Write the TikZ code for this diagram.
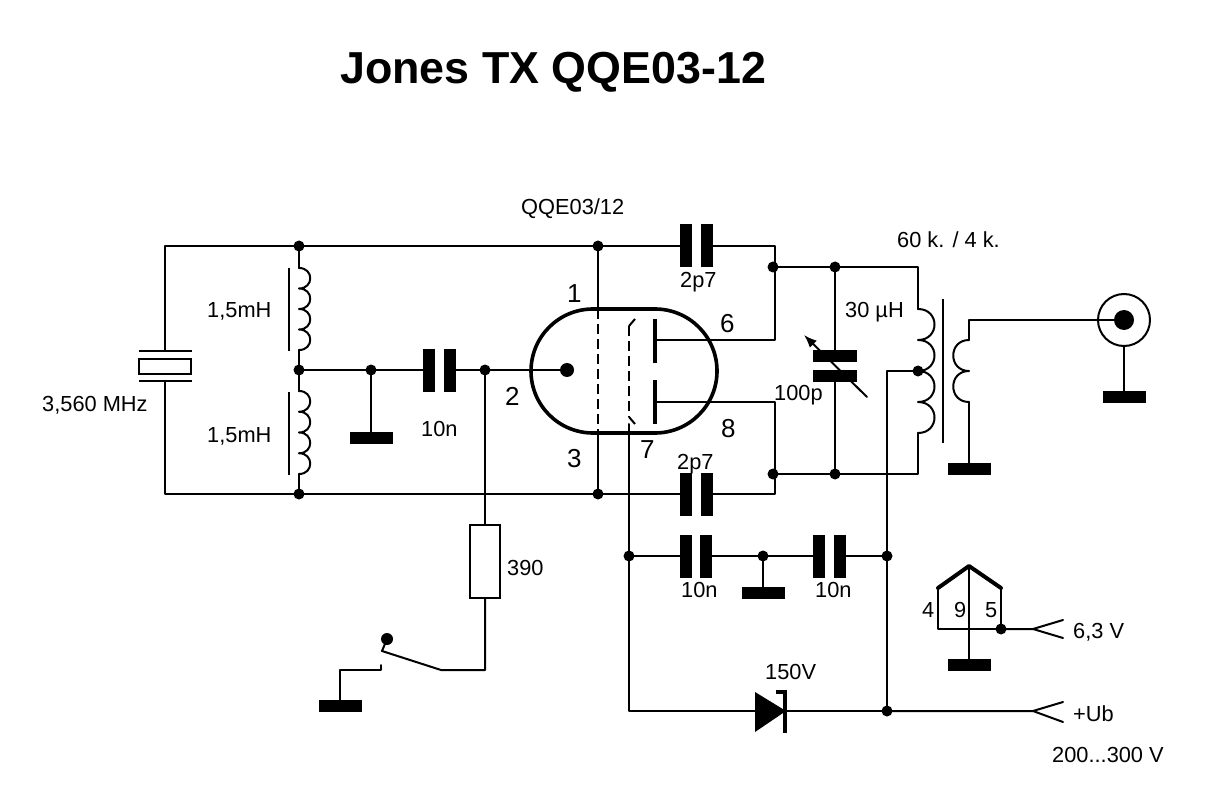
\documentclass[tikz,border=0pt]{standalone}
\usepackage{fontspec}
\setmainfont{Liberation Sans}
\usetikzlibrary{arrows.meta}
\tikzset{
  wire/.style={line width=2pt,line cap=round,line join=round},
  dot/.style={circle,fill=black,inner sep=0pt,minimum size=11pt},
  gnd/.style={rectangle,fill=black,inner sep=0pt,minimum width=43pt,minimum height=12pt},
  vplate/.style={rectangle,fill=black,inner sep=0pt,minimum width=12pt,minimum height=43pt},
  hplate/.style={rectangle,fill=black,inner sep=0pt,minimum width=44pt,minimum height=12pt},
  anode/.style={line width=4pt},
  thickroof/.style={line width=4pt,line cap=round,line join=round},
  lbl/.style={anchor=base west,inner sep=0pt,font=\fontsize{21.8}{26}\selectfont},
  pin/.style={anchor=base west,inner sep=0pt,font=\fontsize{26}{30}\selectfont},
  gdash/.style={line width=2.6pt,dash pattern=on 10pt off 5pt},
}
% coil of #4 humps from a named point: offset #2, pitch #3
\newcommand{\coilhumps}[4]{\draw[wire] (#1) \foreach \i in {1,...,#4}{ .. controls +(#2,0) and +(#2,0) .. ++(0,#3)};}
\begin{document}
\begin{tikzpicture}[x=1pt,y=-1pt]
\fill[white] (0,0) rectangle (1210,810);
\useasboundingbox (0,0) rectangle (1210,810);
% title
\node[anchor=base west,inner sep=0pt,font=\fontsize{44.8}{50}\selectfont\bfseries] (title) at (340,84) {Jones TX QQE03-12};
% junctions
\foreach \n/\x/\y in {jl/299/246,jg1t/598/246,jr/773/267,jm/835/267,jlm/299/370,jg/371/370,jk/485/370,
  jlb/299/494,jg1b/598/494,jrb/773/474,jmb/835/474,jt/918/371,jgs/629/556,jc/763/556,jub/887/556,jd/887/711,jh/1001/629}
  {\node[dot] (\n) at (\x,\y) {};}
% capacitors
\node[vplate] (c1a) at (686,246) {}; \node[vplate] (c1b) at (707,246) {};
\node[vplate] (c2a) at (686,494) {}; \node[vplate] (c2b) at (707,494) {};
\node[vplate] (c3a) at (429,370) {}; \node[vplate] (c3b) at (450,370) {};
\node[vplate] (c4a) at (686,556) {}; \node[vplate] (c4b) at (706,556) {};
\node[vplate] (c5a) at (819,556) {}; \node[vplate] (c5b) at (840,556) {};
\node[hplate] (cva) at (835,356) {}; \node[hplate] (cvb) at (835,376) {};
% grounds
\node[gnd] (g1) at (371,438) {};
\node[gnd] (g2) at (763,593) {};
\node[gnd] (g3) at (340,706) {};
\node[gnd] (g4) at (969,469) {};
\node[gnd] (g5) at (1124,397) {};
\node[gnd] (g6) at (969,665) {};
% resistor
\node[draw,line width=2pt,minimum width=30pt,minimum height=73pt,inner sep=0pt] (r1) at (485,561.5) {};
% tube
\node[draw,line width=3.6pt,minimum width=186pt,minimum height=124pt,rounded corners=62pt,inner sep=0pt] (tube) at (624,371) {};
\node[circle,fill=black,inner sep=0pt,minimum size=14pt] (fil) at (567,370) {};
% grids
\coordinate (g1in) at (598,309); \coordinate (g1out) at (598,433);
\coordinate (g2top) at (629,326); \coordinate (g2bot) at (629,417);
\coordinate (g2tt) at (635,319); \coordinate (g2bb) at (635,424); \coordinate (g2w) at (629,424);
\draw[gdash] (g1in) -- (g1out);
\draw[gdash] (g2top) -- (g2bot);
\draw[line width=2pt] (g2top) -- (g2tt);
\draw[line width=2pt] (g2bot) -- (g2bb);
% anodes
\coordinate (a1t) at (655,319); \coordinate (a1b) at (655,363); \coordinate (a1m) at (655,340);
\coordinate (a2t) at (655,380); \coordinate (a2b) at (655,424); \coordinate (a2m) at (655,402);
\draw[anode] (a1t) -- (a1b);
\draw[anode] (a2t) -- (a2b);
% crystal
\coordinate (xt) at (165,246); \coordinate (xb) at (165,494);
\coordinate (xpt) at (165,351); \coordinate (xpb) at (165,381);
\node[draw,line width=2pt,minimum width=52pt,minimum height=15pt,inner sep=0pt] (xtal) at (165,366.5) {};
\draw[wire,line cap=butt] (139,351) -- (192,351);
\draw[wire,line cap=butt] (139,381) -- (192,381);
\draw[wire] (xpt) -- (xt) -- (jl.center) -- (jg1t.center) -- (c1a.west);
\draw[wire] (xpb) -- (xb) -- (jlb.center) -- (jg1b.center) -- (c2a.west);
% left inductors
\coordinate (l1t) at (299,268); \coordinate (l1b) at (299,350);
\coordinate (l2t) at (299,391); \coordinate (l2b) at (299,474);
\coilhumps{l1t}{15}{20.5}{4}
\coilhumps{l2t}{15}{20.75}{4}
\draw[wire] (jl.center) -- (l1t);
\draw[wire] (l1b) -- (jlm.center) -- (l2t);
\draw[wire] (l2b) -- (jlb.center);
\draw[wire,line cap=butt] (289,268) -- (289,351);
\draw[wire,line cap=butt] (289,392) -- (289,475);
% input line
\draw[wire] (jlm.center) -- (c3a.west);
\draw[wire] (c3b.east) -- (jk.center) -- (fil.center);
\draw[wire] (jg.center) -- (g1.north);
\draw[wire] (jk.center) -- (r1.north);
% key
\coordinate (k1) at (485,670); \coordinate (k2) at (441,670); \coordinate (k3) at (382,651);
\coordinate (k4) at (381,665); \coordinate (k5) at (381,670); \coordinate (k6) at (340,670);
\node[dot,minimum size=12pt] (kd) at (387,639) {};
\draw[wire] (r1.south) -- (k1) -- (k2) -- (k3) -- (kd.center);
\draw[wire] (k4) -- (k5) -- (k6) -- (g3.north);
% tube leads
\draw[wire] (jg1t.center) -- (g1in);
\draw[wire] (g1out) -- (jg1b.center);
\draw[wire] (c1b.east) -- (775,246) -- (775,340) -- (a1m);
\draw[wire] (c2b.east) -- (775,494) -- (775,402) -- (a2m);
\draw[wire] (g2w) -- (jgs.center) -- (629,711) -- (755,711);
% tank
\coordinate (lt) at (918,309); \coordinate (lb) at (918,433);
\draw[wire] (jr.center) -- (jm.center) -- (918,267) -- (lt);
\draw[wire] (jrb.center) -- (jmb.center) -- (918,474) -- (lb);
\coilhumps{lt}{22}{31}{4}
\draw[wire] (jm.center) -- (cva.north);
\draw[wire] (jmb.center) -- (cvb.south);
\coordinate (cvs) at (867,397); \coordinate (cve) at (804,335);
\draw[wire,-{Latex[length=13pt,width=10pt]}] (cvs) -- (cve);
% transformer
\coordinate (cort) at (943,299); \coordinate (corb) at (943,443);
\draw[wire,line cap=butt] (cort) -- (corb);
\coordinate (st) at (969,340); \coordinate (sb) at (969,402);
\coilhumps{st}{-21}{31}{2}
\draw[wire] (sb) -- (g4.north);
% coax
\node[draw,circle,line width=2pt,minimum size=52pt,inner sep=0pt] (coax) at (1124,320) {};
\node[circle,fill=black,inner sep=0pt,minimum size=20pt] (coaxc) at (1124,320) {};
\draw[wire] (st) -- (969,320) -- (coaxc.center);
\draw[wire] (coax.south) -- (g5.north);
% centre tap
\draw[wire] (jt.center) -- (887,371) -- (jub.center) -- (jd.center);
% screen bypass
\draw[wire] (jgs.center) -- (c4a.west);
\draw[wire] (c4b.east) -- (jc.center) -- (c5a.west);
\draw[wire] (c5b.east) -- (jub.center);
\draw[wire] (jc.center) -- (g2.north);
% diode
\coordinate (da) at (755,711); \coordinate (dk) at (786,711);
\fill (755,692) -- (786,711) -- (755,732) -- cycle;
\draw[line width=4pt,line cap=butt] (776,691.5) -- (785,691.5) -- (785,733);
\draw[wire] (dk) -- (jd.center);
% +Ub terminal
\coordinate (t1) at (1033,711); \coordinate (t1a) at (1063,702); \coordinate (t1b) at (1063,722);
\draw[wire] (jd.center) -- (t1) -- (t1a);
\draw[wire] (t1) -- (t1b);
% heater
\coordinate (hl) at (938,588); \coordinate (hp) at (969,566); \coordinate (hr) at (1001,588); \coordinate (hb) at (938,629);
\draw[thickroof] (hl) -- (hp) -- (hr);
\draw[wire] (hl) -- (hb) -- (jh.center) -- (hr);
\draw[wire] (hp) -- (g6.north);
\coordinate (t2) at (1033,629); \coordinate (t2a) at (1063,620); \coordinate (t2b) at (1063,638);
\draw[wire] (jh.center) -- (t2) -- (t2a);
\draw[wire] (t2) -- (t2b);
% labels
\node[lbl] (tl1) at (521,215) {QQE03/12};
\node[lbl] (tl2) at (897,248) {60 k. / 4 k.};
\node[lbl] (tl3) at (845,318) {30 µH};
\node[lbl] (tl4) at (774,400) {100p};
\node[lbl] (tl5) at (207,318) {1,5mH};
\node[lbl] (tl6) at (207,442) {1,5mH};
\node[lbl] (tl7) at (42,411) {3,560 MHz};
\node[lbl] (tl8) at (421,436) {10n};
\node[lbl] (tl9) at (680,288) {2p7};
\node[lbl] (tl10) at (677,469) {2p7};
\node[lbl] (tl11) at (681,597) {10n};
\node[lbl] (tl12) at (815,597) {10n};
\node[lbl] (tl13) at (765,679) {150V};
\node[lbl] (tl14) at (507,575) {390};
\node[lbl] (tl15) at (922,617) {4};
\node[lbl] (tl16) at (954,617) {9};
\node[lbl] (tl17) at (985,617) {5};
\node[lbl] (tl18) at (1073,638) {6,3 V};
\node[lbl] (tl19) at (1073,721) {+Ub};
\node[lbl] (tl20) at (1052,762) {200...300 V};
\node[pin] (p1) at (567,302) {1};
\node[pin] (p2) at (505,405) {2};
\node[pin] (p3) at (567,467) {3};
\node[pin] (p6) at (720,333) {6};
\node[pin] (p7) at (640,458) {7};
\node[pin] (p8) at (721,437) {8};
\end{tikzpicture}
\end{document}
